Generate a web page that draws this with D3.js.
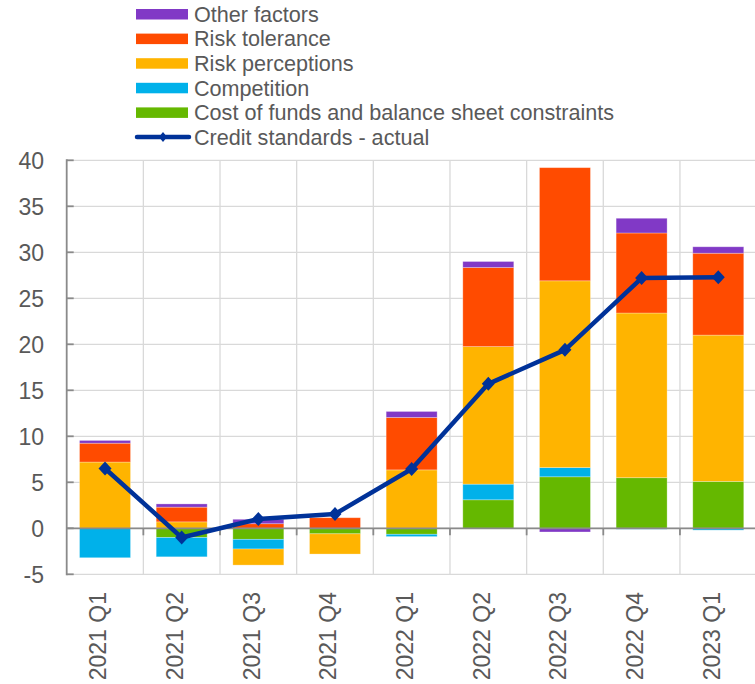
<!DOCTYPE html>
<html>
<head>
<meta charset="utf-8">
<script src="https://cdn.jsdelivr.net/npm/d3@7"></script>
<style>
  html, body { margin: 0; padding: 0; background: #fff; }
  svg { display: block; font-family: "Liberation Sans", Arial, sans-serif; }
</style>
</head>
<body>
<svg id="chart" width="755" height="684"></svg>
<script>
// ---- data ----
const categories = ["2021 Q1","2021 Q2","2021 Q3","2021 Q4","2022 Q1","2022 Q2","2022 Q3","2022 Q4","2023 Q1"];
const costOfFunds   = [0.0, -1.0, -1.2, -0.6, -0.65, 3.1, 5.6, 5.5, 5.1];
const competition   = [-3.2, -2.1, -1.05, 0.0, -0.25, 1.7, 1.0, -0.1, -0.2];
const riskPerception= [7.2, 0.7, -1.75, -2.2, 6.35, 14.95, 20.3, 17.9, 15.9];
const riskTolerance = [2.05, 1.6, 0.5, 1.15, 5.7, 8.6, 12.3, 8.7, 8.9];
const otherFactors  = [0.3, 0.35, 0.48, 0.0, 0.65, 0.65, -0.4, 1.6, 0.7];
const creditStandards = [6.5, -1.0, 1.0, 1.55, 6.45, 15.7, 19.4, 27.2, 27.3];
const yTicks = [-5, 0, 5, 10, 15, 20, 25, 30, 35, 40];

const seriesNames = {
  cost: "Cost of funds and balance sheet constraints",
  comp: "Competition",
  perc: "Risk perceptions",
  tol: "Risk tolerance",
  other: "Other factors"
};
const colors = { cost: "#65B800", comp: "#00B1EA", perc: "#FFB400", tol: "#FF4B00", other: "#8139C6", line: "#003299" };

const rows = categories.map((c, i) => ({
  cat: c, cost: costOfFunds[i], comp: competition[i], perc: riskPerception[i],
  tol: riskTolerance[i], other: otherFactors[i], actual: creditStandards[i]
}));
const keys = ["cost", "comp", "perc", "tol", "other"];

// ---- layout ----
const svg = d3.select("#chart");
const M = { left: 66.7, right: 756.6, top: 160.3, bottom: 574.3 };
const textColor = "#595959";

const x = d3.scaleBand().domain(categories).range([M.left, M.right]).paddingInner(0.335).paddingOuter(0.1675);
const y = d3.scaleLinear().domain([-5, 40]).range([M.bottom, M.top]);

// gridlines
const grid = svg.append("g");
yTicks.forEach(t => {
  grid.append("line").attr("x1", M.left).attr("x2", 755).attr("y1", y(t)).attr("y2", y(t))
    .attr("stroke", "#d9d9d9").attr("stroke-width", 1.3);
});
d3.range(1, categories.length + 1).forEach(i => {
  const gx = M.left + i * x.step();
  grid.append("line").attr("x1", gx).attr("x2", gx).attr("y1", M.top).attr("y2", M.bottom)
    .attr("stroke", "#d9d9d9").attr("stroke-width", 1.3);
});

// stacked bars
const stack = d3.stack().keys(keys).offset(d3.stackOffsetDiverging).order(d3.stackOrderNone);
const stacked = stack(rows);
svg.append("g").selectAll("g").data(stacked).join("g")
  .attr("fill", d => colors[d.key])
  .selectAll("rect").data(d => d).join("rect")
  .attr("x", d => x(d.data.cat))
  .attr("width", x.bandwidth())
  .attr("y", d => y(Math.max(d[0], d[1])))
  .attr("height", d => Math.abs(y(d[0]) - y(d[1])))
  .attr("stroke", "rgba(255,255,255,0.35)").attr("stroke-width", 0.8);

// axes
const axisColor = "#8a8a8a";
const ax = svg.append("g");
ax.append("line").attr("x1", M.left).attr("x2", M.left).attr("y1", M.top - 1).attr("y2", M.bottom + 1)
  .attr("stroke", axisColor).attr("stroke-width", 1.8);
yTicks.forEach(t => {
  ax.append("line").attr("x1", M.left).attr("x2", M.left + 7).attr("y1", y(t)).attr("y2", y(t))
    .attr("stroke", axisColor).attr("stroke-width", 1.8);
  ax.append("text").attr("x", 44).attr("y", y(t)).attr("dy", "0.36em")
    .attr("text-anchor", "end").attr("font-size", 23).attr("fill", textColor).text(t);
});
// zero line with ticks
ax.append("line").attr("x1", M.left).attr("x2", 755).attr("y1", y(0)).attr("y2", y(0))
  .attr("stroke", axisColor).attr("stroke-width", 1.8);
d3.range(1, categories.length + 1).forEach(i => {
  const gx = M.left + i * x.step();
  ax.append("line").attr("x1", gx).attr("x2", gx).attr("y1", y(0)).attr("y2", y(0) + 7)
    .attr("stroke", axisColor).attr("stroke-width", 1.8);
});

// x labels
svg.append("g").selectAll("text").data(categories).join("text")
  .attr("transform", d => `translate(${x(d) + x.bandwidth() / 2 - 7},592) rotate(-90)`)
  .attr("dy", "0.36em")
  .attr("text-anchor", "end").attr("font-size", 23).attr("fill", textColor)
  .text(d => d);

// line
const lineGen = d3.line().x(d => x(d.cat) + x.bandwidth() / 2).y(d => y(d.actual));
svg.append("path").datum(rows).attr("d", lineGen)
  .attr("fill", "none").attr("stroke", colors.line).attr("stroke-width", 4.5).attr("stroke-linejoin", "round");
const diamond = (hw, hh) => `M0,${-hh}L${hw},0L0,${hh}L${-hw},0Z`;
svg.append("g").selectAll("path").data(rows).join("path")
  .attr("transform", d => `translate(${x(d.cat) + x.bandwidth() / 2},${y(d.actual)})`)
  .attr("d", diamond(6.5, 7)).attr("fill", colors.line);

// legend
const legendItems = ["other", "tol", "perc", "comp", "cost"];
const lg = svg.append("g");
const legendFont = 21.6;
legendItems.forEach((k, i) => {
  const cy = 14 + i * 24.6;
  lg.append("rect").attr("x", 136).attr("y", cy - 5).attr("width", 52).attr("height", 10.5).attr("fill", colors[k]);
  lg.append("text").attr("x", 194).attr("y", cy).attr("dy", "0.36em")
    .attr("font-size", legendFont).attr("fill", textColor).text(seriesNames[k]);
});
const lcy = 14 + 5 * 24.6;
lg.append("line").attr("x1", 137).attr("x2", 189).attr("y1", lcy).attr("y2", lcy)
  .attr("stroke", colors.line).attr("stroke-width", 4.5).attr("stroke-linecap", "round");
lg.append("path").attr("transform", `translate(163,${lcy})`).attr("d", diamond(4, 5)).attr("fill", colors.line);
lg.append("text").attr("x", 194).attr("y", lcy).attr("dy", "0.36em")
  .attr("font-size", legendFont).attr("fill", textColor).text("Credit standards - actual");
</script>
</body>
</html>
